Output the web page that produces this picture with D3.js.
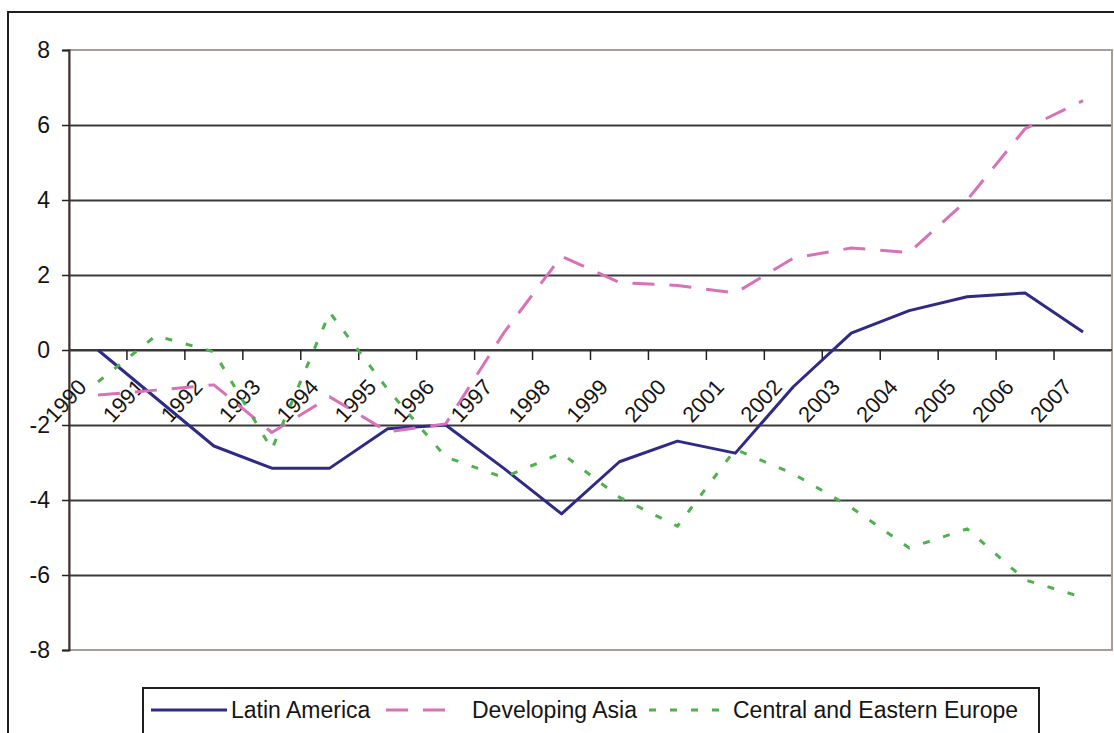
<!DOCTYPE html>
<html>
<head>
<meta charset="utf-8">
<script src="https://cdn.jsdelivr.net/npm/d3@7"></script>
<style>
  body { margin: 0; background: #fff; }
  text { font-family: "Liberation Sans", Arial, sans-serif; fill: #151515; }
</style>
</head>
<body>
<svg id="chart" width="1114" height="733"></svg>
<script>
// categories and series
const years = [1990, 1991, 1992, 1993, 1994, 1995, 1996, 1997, 1998, 1999,
               2000, 2001, 2002, 2003, 2004, 2005, 2006, 2007];
const latinAmerica = [0, -1.28, -2.56, -3.15, -3.15, -2.1, -2.0, -3.15, -4.37, -2.98,
                      -2.43, -2.75, -0.98, 0.45, 1.05, 1.42, 1.52, 0.48];
const developingAsia = [-1.2, -1.07, -0.93, -2.2, -1.25, -2.18, -1.97, 0.45, 2.5, 1.8,
                        1.72, 1.52, 2.45, 2.72, 2.6, 4.0, 5.9, 6.65];
const centralEasternEurope = [-0.85, 0.38, -0.05, -2.65, 1.0, -1.05, -2.85, -3.4, -2.75, -3.93,
                              -4.7, -2.65, -3.3, -4.2, -5.28, -4.77, -6.13, -6.6];
const yTicks = [-8, -6, -4, -2, 0, 2, 4, 6, 8];
const seriesNames = ['Latin America', 'Developing Asia', 'Central and Eastern Europe'];

const series = [
  { name: seriesNames[0], values: latinAmerica, color: '#2f2a85', dash: null, width: 3 },
  { name: seriesNames[1], values: developingAsia, color: '#d772b8', dash: '22,15', width: 3 },
  { name: seriesNames[2], values: centralEasternEurope, color: '#4fb04f', dash: '7,14', width: 3 }
];

const svg = d3.select('#chart');
const plotLeft = 69, plotRight = 1112, plotTop = 50, plotBottom = 650;

const x = d3.scaleBand().domain(years).range([plotLeft, plotRight]);
const y = d3.scaleLinear().domain([-8, 8]).range([plotBottom, plotTop]);
const cx = d => x(d) + x.bandwidth() / 2;

// chart frame (runs off the right and bottom edges)
svg.append('rect')
  .attr('x', 8).attr('y', 12).attr('width', 1140).attr('height', 760)
  .attr('fill', '#fff').attr('stroke', '#1e1e1e').attr('stroke-width', 2);

// horizontal gridlines
svg.append('g')
  .attr('transform', `translate(${plotLeft},0)`)
  .call(d3.axisLeft(y).tickValues(yTicks.slice(1, -1)).tickSize(-(plotRight - plotLeft)).tickFormat(''))
  .call(g => g.select('.domain').remove())
  .selectAll('line').attr('stroke', '#3a3a3a').attr('stroke-width', 2);

// plot area border
svg.append('rect')
  .attr('x', plotLeft).attr('y', plotTop).attr('width', plotRight - plotLeft).attr('height', plotBottom - plotTop)
  .attr('fill', 'none').attr('stroke', '#a99d97').attr('stroke-width', 2);

// y axis
const yAxis = svg.append('g')
  .attr('transform', `translate(${plotLeft},0)`)
  .call(d3.axisLeft(y).tickValues(yTicks).tickSize(7).tickPadding(12).tickFormat(d => String(d)));
yAxis.select('.domain').attr('stroke', '#3b2f2f').attr('stroke-width', 2);
yAxis.selectAll('.tick line').attr('stroke', '#222').attr('stroke-width', 1.5);
yAxis.selectAll('.tick text').attr('font-size', 23).attr('fill', '#151515');

// x axis along zero, ticks between categories
const xAxis = svg.append('g');
xAxis.append('line')
  .attr('x1', plotLeft).attr('x2', plotRight).attr('y1', y(0)).attr('y2', y(0))
  .attr('stroke', '#3a3a3a').attr('stroke-width', 2);
xAxis.selectAll('line.tick')
  .data(years.slice(1))
  .join('line')
  .attr('class', 'tick')
  .attr('x1', d => x(d)).attr('x2', d => x(d))
  .attr('y1', y(0)).attr('y2', y(0) + 10)
  .attr('stroke', '#222').attr('stroke-width', 1.5);
xAxis.selectAll('text')
  .data(years)
  .join('text')
  .attr('transform', d => `translate(${cx(d) - 10},${y(0) + 38}) rotate(-47)`)
  .attr('text-anchor', 'end')
  .attr('font-size', 22)
  .text(d => d);

// series lines
const line = d3.line()
  .x((d, i) => cx(years[i]))
  .y(d => y(d));

svg.append('g')
  .selectAll('path')
  .data(series)
  .join('path')
  .attr('d', d => line(d.values))
  .attr('fill', 'none')
  .attr('stroke', d => d.color)
  .attr('stroke-width', d => d.width)
  .attr('stroke-dasharray', d => d.dash)
  .attr('stroke-linejoin', 'round');

// legend
const legend = svg.append('g');
legend.append('rect')
  .attr('x', 143).attr('y', 688).attr('width', 896).attr('height', 70)
  .attr('fill', '#fff').attr('stroke', '#1e1e1e').attr('stroke-width', 2);

const legendX = [151, 386, 649];
const legendLen = [76, 64, 80];
const item = legend.selectAll('g.item')
  .data(series)
  .join('g')
  .attr('class', 'item')
  .attr('transform', (d, i) => `translate(${legendX[i]},710)`);
item.append('line')
  .attr('x1', 0).attr('x2', (d, i) => legendLen[i])
  .attr('y1', 0).attr('y2', 0)
  .attr('stroke', d => d.color)
  .attr('stroke-width', d => d.width)
  .attr('stroke-dasharray', d => d.dash);
item.append('text')
  .attr('x', (d, i) => i === 0 ? 80 : (i === 1 ? 86 : 84))
  .attr('y', 0)
  .attr('dy', '0.35em')
  .attr('font-size', 23)
  .text(d => d.name);
</script>
</body>
</html>
